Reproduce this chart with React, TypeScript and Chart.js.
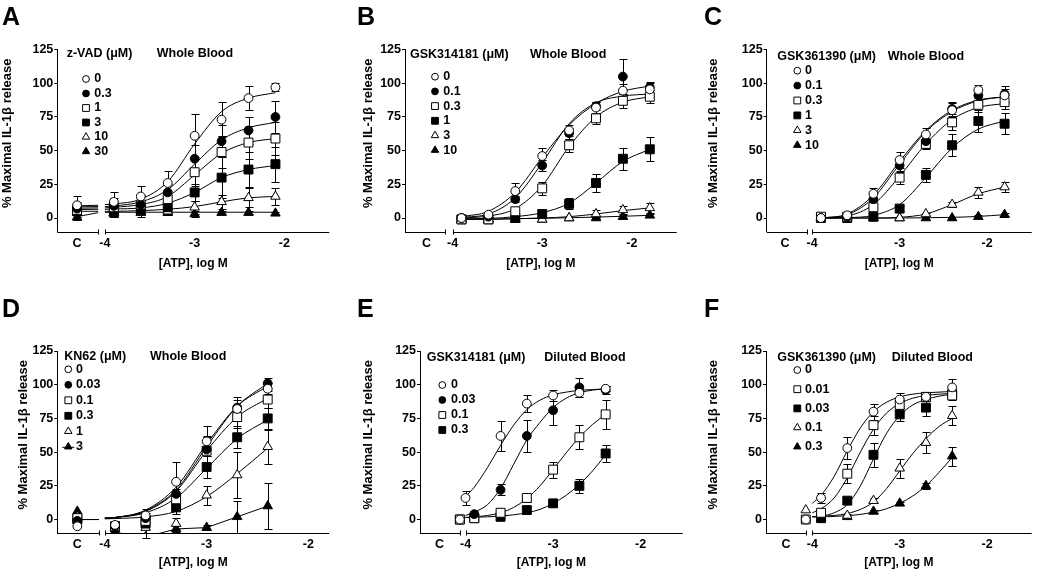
import React, { useEffect, useRef } from "react";
import { Chart, registerables } from "chart.js";

Chart.register(...registerables);

const FONT_FAMILY = '"Liberation Sans", Arial, Helvetica, sans-serif';
const Y_TITLE = "    % Maximal IL-1\u03b2 release";
const X_TITLE = "[ATP], log M";

// ================= Panel A : z-VAD, whole blood =================
const A_logATP = [-3.9, -3.6, -3.3, -3.0, -2.7, -2.4, -2.1];
const A_conc = ["0", "0.3", "1", "3", "10", "30"];
const A_ctrl = [9.5, 7, 6, 5, 4, 0.5];
const A_ctrlErr = [7, 5, 4, 3, 3, 2];
const A_0 = [12, 16, 26, 61, 73, 89, 97];
const A_0_err = [7, 8, 9, 16, 13, 9, 3];
const A_03 = [9, 10, 19, 44, 57, 65, 75];
const A_03_err = [6, 7, 6, 10, 12, 10, 12];
const A_1 = [8, 10, 14, 34, 49, 56, 59];
const A_1_err = [5, 6, 6, 10, 12, 12, 12];
const A_3 = [4, 6, 8, 19, 30, 36, 40];
const A_3_err = [3, 3, 4, 6, 15, 13, 13];
const A_10 = [4, 4, 5, 8, 12, 15, 16];
const A_10_err = [3, 3, 3, 5, 5, 7, 6];
const A_30 = [4, 4, 4, 3, 4, 4, 3.5];
const A_30_err = [1, 1, 1, 2, 1, 1, 1];
// fitted curves
const A_fitX = [-4.0, -3.9, -3.6, -3.3, -3.0, -2.7, -2.4, -2.1];
const A_fitCtrl = [[9, 9.5], [8.3, 8.5], [7.3, 7.5], [6.3, 6.5], [5, 5], [1, 4]];
const A_fit0 = [10, 10.5, 14, 27, 55, 79, 89, 93];
const A_fit03 = [8.5, 9, 12, 21, 40, 58, 67, 71];
const A_fit1 = [7.5, 8, 10, 16, 32, 48, 56, 59];
const A_fit3 = [6.5, 6.7, 7.5, 11, 19, 30, 36, 39];
const A_fit10 = [5, 5, 5.5, 6.5, 8.5, 12, 15, 16];
const A_fit30 = [4.2, 4.3, 4.3, 4.3, 4.3, 4.3, 4.3, 4.3];

// ================= Panel B : GSK314181, whole blood =================
const B_logATP = [-3.9, -3.6, -3.3, -3.0, -2.7, -2.4, -2.1, -1.8];
const B_conc = ["0", "0.1", "0.3", "1", "3", "10"];
const B_0 = [0, 2.5, 20, 46, 65, 82, 94.5, 95.5];
const B_0_err = [1, 1, 6, 6, 4, 4, 5, 5];
const B_01 = [0, 1, 14, 39, 63, 83, 105, 97];
const B_01_err = [1, 1, 2, 4, 4, 3, 13, 4];
const B_03 = [-1, -1, 5, 22, 54, 74, 87, 90];
const B_03_err = [1, 1, 2, 5, 5, 4, 5, 5];
const B_1 = [-1, -1, 0, 3, 10.5, 26, 44, 51];
const B_1_err = [1, 1, 1, 1, 4, 7, 8, 9];
const B_3 = [-1, -1, -1, -1, 0, 3, 6, 7.5];
const B_3_err = [1, 1, 1, 1, 1, 3, 3, 4];
const B_10 = [-1, -1, -1, -1, 0, 0, 1, 2];
const B_10_err = [0, 0, 0, 0, 0, 1, 1, 1];
const B_fit0 = [1, 5, 19, 45, 69, 85, 94, 98];
const B_fit01 = [0.5, 3, 15, 41, 70, 85.5, 90.5, 92];
const B_fit03 = [0, 1.5, 7, 24, 53, 75, 86, 90];
const B_fit1 = [-0.5, -0.3, 1, 4, 11, 26, 42, 51];
const B_fit3 = [-1, -1, -0.5, 0, 1, 3, 5.5, 7.5];
const B_fit10 = [-1, -0.8, -0.5, -0.2, 0.2, 0.7, 1.3, 2];

// ================= Panel C : GSK361390, whole blood =================
const C_logATP = [-3.9, -3.6, -3.3, -3.0, -2.7, -2.4, -2.1, -1.8];
const C_conc = ["0", "0.1", "0.3", "1", "3", "10"];
const C_0 = [0, 2, 18, 43, 62, 80, 95, 91];
const C_0_err = [1, 1, 4, 6, 5, 5, 4, 5];
const C_01 = [0, 1, 14, 39, 57, 81, 91, 92];
const C_01_err = [1, 1, 4, 5, 5, 5, 5, 6];
const C_03 = [1, 1, 8, 30, 55, 71, 84, 86];
const C_03_err = [1, 1, 5, 5, 4, 6, 5, 5];
const C_1 = [0, 0, 1, 7, 32, 54, 72, 70];
const C_1_err = [1, 1, 1, 2, 5, 8, 8, 8];
const C_3 = [0, 0, 0, 0, 3, 10, 19, 23];
const C_3_err = [0, 0, 0, 0, 1, 2, 4, 4];
const C_10 = [0, 0, 0, 0, 0, 0, 1, 2.5];
const C_10_err = [0, 0, 0, 0, 0, 0, 1, 1];
const C_fit0 = [0, 3, 17, 42, 65, 80, 87.5, 90];
const C_fit01 = [0, 2.5, 15, 40, 64, 79, 87, 90];
const C_fit03 = [0, 1.5, 10, 31, 55, 73, 82, 85];
const C_fit1 = [0, 0.3, 2, 10, 30, 52, 66, 72];
const C_fit3 = [0, 0, 0, 0.5, 3, 10, 18, 23];
const C_fit10 = [0, 0, 0, 0, 0.2, 0.5, 1.2, 2.5];

// ================= Panel D : KN62, whole blood =================
const D_logATP = [-3.9, -3.6, -3.3, -3.0, -2.7, -2.4];
const D_conc = ["0", "0.03", "0.1", "0.3", "1", "3"];
const D_ctrl = [-5, -1, 1, 0, 2, 6];
const D_0 = [-4, 3, 28, 58, 82, 97];
const D_0_err = [3, 5, 15, 11, 9, 4];
const D_003 = [-5, 1, 19, 52, 83, 101];
const D_003_err = [3, 4, 8, 10, 6, 4];
const D_01 = [-5, -1, 15, 51, 76, 89];
const D_01_err = [2, 4, 8, 10, 8, 6];
const D_03 = [-6, -3, 9, 39, 61, 75];
const D_03_err = [2, 4, 5, 8, 8, 8];
const D_1 = [-6, -6, -3, 18, 33, 54];
const D_1_err = [2, 7.5, 4, 7, 17, 12.5];
const D_3 = [-9.5, -13, -7, -6, 2, 10];
const D_3_err = [0, 0, 2, 2, 12, 17];
const D_fitX = [-4.0, -3.9, -3.6, -3.3, -3.0, -2.7, -2.4];
const D_fitCtrl = [0, 0];
const D_fit0 = [1, 1.5, 7, 24, 56, 84, 99];
const D_fit003 = [1, 1.5, 6.5, 22, 54, 84, 101];
const D_fit01 = [1, 1.5, 6, 21, 51, 76, 90];
const D_fit03 = [1, 1.5, 5, 16, 38, 60, 74];
const D_fit1 = [0.5, 0.7, 2, 6, 17, 34, 53];

// ================= Panel E : GSK314181, diluted blood =================
const E_logATP = [-3.9, -3.6, -3.3, -3.0, -2.7, -2.4];
const E_logATP_0 = [-4.0, -3.6, -3.3, -3.0, -2.7, -2.4];
const E_conc = ["0", "0.03", "0.1", "0.3"];
const E_0 = [16, 62, 86, 92, 94, 97];
const E_0_err = [5, 11, 6, 4, 3, 2];
const E_003 = [4, 22, 62, 81, 98, 96];
const E_003_err = [2, 4, 12, 11, 7, 3];
const E_01 = [1, 5, 16, 37, 61, 78];
const E_01_err = [1, 2, 3, 6, 9, 11];
const E_03 = [1, 2, 7, 12, 25, 49];
const E_03_err = [1, 1, 2, 2, 5, 6];
const E_fitX = [-4.0, -3.9, -3.75, -3.6, -3.45, -3.3, -3.15, -3.0, -2.85, -2.7, -2.55, -2.4];
const E_fit0 = [17, 24, 38.5, 55, 70, 81.5, 88.5, 92.5, 94.5, 95.8, 96.4, 96.8];
const E_fit003 = [3, 5.5, 11, 23, 41, 59, 72, 83, 90, 94, 96, 97];
const E_fit01 = [1.5, 2, 3, 5, 9, 15.5, 25, 37, 49.5, 61, 70.5, 78];
const E_fit03 = [1.5, 1.7, 2, 2.5, 3.5, 5, 7.5, 12, 18, 26, 36, 48];

// ================= Panel F : GSK361390, diluted blood =================
const F_logATP = [-3.9, -3.6, -3.3, -3.0, -2.7, -2.4];
const F_conc = ["0", "0.01", "0.03", "0.1", "0.3"];
const F_0 = [16, 53, 80, 89, 91, 98];
const F_0_err = [4, 8, 6, 5, 3, 6];
const F_001 = [5, 34, 70, 85, 91, 92];
const F_001_err = [2, 7, 7, 5, 3, 3];
const F_003 = [1, 14, 48, 78, 83, 93];
const F_003_err = [1, 2, 9, 5, 6, 3];
const F_01 = [1, 3, 14, 38, 57, 77];
const F_01_err = [1, 1, 2, 7, 8, 7];
const F_03 = [1, 2, 6, 12, 25, 47];
const F_03_err = [1, 1, 1, 1, 2, 7];
const F_fitX = [-4.0, -3.9, -3.75, -3.6, -3.45, -3.3, -3.15, -3.0, -2.85, -2.7, -2.55, -2.4];
const F_fit0 = [12, 18, 32, 51, 68, 80, 87, 91, 93, 94, 94.5, 95];
const F_fit001 = [5, 8, 16, 31, 50, 67, 79, 86, 90, 92, 93, 93.5];
const F_fit003 = [2, 2.5, 5, 11, 25, 45, 64, 77, 85, 89, 91.5, 93];
const F_fit01 = [2, 2.5, 3, 4.5, 7.5, 13, 23, 36, 49, 60, 69, 75];
const F_fit03 = [2, 2, 2.3, 2.8, 3.8, 5.5, 8, 12, 17.5, 25, 35, 46];

// ----------------------------------------------------------------
const S = (label, marker, x, y, err, extra = {}) => ({ label, marker, x, y, err, ...extra });

const panels = [
  {
    letter: "A", letterPos: [2, 25], drug: "z-VAD (\u03bcM)", blood: "Whole Blood",
    canvas: { left: 0, top: 0, width: 345, height: 285 },
    area: { left: 57.3, right: 329.3, top: 49.6, bottom: 231.5 },
    xMin: -4.53, xMax: -1.5, cX: -4.31, breakL: -4.075, breakR: -4.0, ctrlX: -4.31,
    yTitlePad: 0, xTitlePad: 13.8,
    legend: { hx1: 9.4, hx2: 99.4, hy: 3.7, symX: 28.7, txtX: 37, row0: 29.4, dy: 14.5 },
    fitX: A_fitX,
    series: [
      S(A_conc[0], "oc", A_logATP, A_0, A_0_err, { ctrl: A_ctrl[0], ctrlErr: A_ctrlErr[0], fit: A_fit0, fitCtrl: A_fitCtrl[0] }),
      S(A_conc[1], "fc", A_logATP, A_03, A_03_err, { ctrl: A_ctrl[1], ctrlErr: A_ctrlErr[1], fit: A_fit03, fitCtrl: A_fitCtrl[1] }),
      S(A_conc[2], "os", A_logATP, A_1, A_1_err, { ctrl: A_ctrl[2], ctrlErr: A_ctrlErr[2], fit: A_fit1, fitCtrl: A_fitCtrl[2] }),
      S(A_conc[3], "fs", A_logATP, A_3, A_3_err, { ctrl: A_ctrl[3], ctrlErr: A_ctrlErr[3], fit: A_fit3, fitCtrl: A_fitCtrl[3] }),
      S(A_conc[4], "ot", A_logATP, A_10, A_10_err, { ctrl: A_ctrl[4], ctrlErr: A_ctrlErr[4], fit: A_fit10, fitCtrl: A_fitCtrl[4] }),
      S(A_conc[5], "ft", A_logATP, A_30, A_30_err, { ctrl: A_ctrl[5], ctrlErr: A_ctrlErr[5], fit: A_fit30, fitCtrl: A_fitCtrl[5] }),
    ],
  },
  {
    letter: "B", letterPos: [357, 25], drug: "GSK314181 (\u03bcM)", blood: "Whole Blood",
    canvas: { left: 345, top: 0, width: 345, height: 285 },
    area: { left: 405, right: 676.7, top: 49.6, bottom: 231.5 },
    xMin: -4.53, xMax: -1.5, cX: -4.29, breakL: -4.08, breakR: -4.0, ctrlX: -4.29,
    yTitlePad: 15.2, xTitlePad: 13.8,
    legend: { hx1: 5, hx2: 125, hy: 5.4, symX: 30, txtX: 38.3, row0: 27.1, dy: 14.7 },
    fitX: B_logATP,
    series: [
      S(B_conc[0], "oc", B_logATP, B_0, B_0_err, { fit: B_fit0 }),
      S(B_conc[1], "fc", B_logATP, B_01, B_01_err, { fit: B_fit01 }),
      S(B_conc[2], "os", B_logATP, B_03, B_03_err, { fit: B_fit03 }),
      S(B_conc[3], "fs", B_logATP, B_1, B_1_err, { fit: B_fit1 }),
      S(B_conc[4], "ot", B_logATP, B_3, B_3_err, { fit: B_fit3 }),
      S(B_conc[5], "ft", B_logATP, B_10, B_10_err, { fit: B_fit10 }),
    ],
  },
  {
    letter: "C", letterPos: [704, 25], drug: "GSK361390 (\u03bcM)", blood: "Whole Blood",
    canvas: { left: 690, top: 0, width: 349, height: 285 },
    area: { left: 766.7, right: 1039, top: 49.6, bottom: 231.5 },
    xMin: -4.52, xMax: -1.49, cX: -4.31, breakL: -4.06, breakR: -4.0, ctrlX: -4.31,
    yTitlePad: 15.2, xTitlePad: 13.8,
    legend: { hx1: 10.6, hx2: 121, hy: 7.1, symX: 30.6, txtX: 38.3, row0: 21.1, dy: 14.9 },
    fitX: C_logATP,
    series: [
      S(C_conc[0], "oc", C_logATP, C_0, C_0_err, { fit: C_fit0 }),
      S(C_conc[1], "fc", C_logATP, C_01, C_01_err, { fit: C_fit01 }),
      S(C_conc[2], "os", C_logATP, C_03, C_03_err, { fit: C_fit03 }),
      S(C_conc[3], "fs", C_logATP, C_1, C_1_err, { fit: C_fit1 }),
      S(C_conc[4], "ot", C_logATP, C_3, C_3_err, { fit: C_fit3 }),
      S(C_conc[5], "ft", C_logATP, C_10, C_10_err, { fit: C_fit10 }),
    ],
  },
  {
    letter: "D", letterPos: [2, 317], drug: "KN62 (\u03bcM)", blood: "Whole Blood",
    canvas: { left: 0, top: 285, width: 345, height: 285 },
    area: { left: 57.3, right: 329.3, top: 351, bottom: 533 },
    xMin: -4.467, xMax: -1.795, cX: -4.27, breakL: -4.06, breakR: -4.0, ctrlX: -4.27,
    yTitlePad: 15.2, xTitlePad: 0.3,
    legend: { hx1: 7, hx2: 92.7, hy: 5.7, symX: 11, txtX: 18.7, row0: 18.3, dy: 15.5 },
    fitX: D_fitX,
    series: [
      S(D_conc[0], "oc", D_logATP, D_0, D_0_err, { ctrl: D_ctrl[0], fit: D_fit0, fitCtrl: D_fitCtrl }),
      S(D_conc[1], "fc", D_logATP, D_003, D_003_err, { ctrl: D_ctrl[1], fit: D_fit003, fitCtrl: D_fitCtrl }),
      S(D_conc[2], "os", D_logATP, D_01, D_01_err, { ctrl: D_ctrl[2], fit: D_fit01, fitCtrl: D_fitCtrl }),
      S(D_conc[3], "fs", D_logATP, D_03, D_03_err, { ctrl: D_ctrl[3], fit: D_fit03, fitCtrl: D_fitCtrl }),
      S(D_conc[4], "ot", D_logATP, D_1, D_1_err, { ctrl: D_ctrl[4], fit: D_fit1, fitCtrl: D_fitCtrl }),
      S(D_conc[5], "ft", D_logATP, D_3, D_3_err, { ctrl: D_ctrl[5], connect: true }),
    ],
  },
  {
    letter: "E", letterPos: [357, 317], drug: "GSK314181 (\u03bcM)", blood: "Diluted Blood",
    canvas: { left: 345, top: 285, width: 345, height: 285 },
    area: { left: 420, right: 690, top: 351, bottom: 533 },
    xMin: -4.52, xMax: -1.52, cX: -4.297, breakL: -4.065, breakR: -4.0, ctrlX: -4.065,
    yTitlePad: 15.2, xTitlePad: 0.3,
    legend: { hx1: 6.7, hx2: 124.3, hy: 6.2, symX: 22.3, txtX: 31, row0: 34, dy: 15 },
    fitX: E_fitX,
    series: [
      S(E_conc[0], "oc", E_logATP_0, E_0, E_0_err, { ctrl: 0, fit: E_fit0 }),
      S(E_conc[1], "fc", E_logATP, E_003, E_003_err, { fit: E_fit003 }),
      S(E_conc[2], "os", E_logATP, E_01, E_01_err, { ctrl: 0, fit: E_fit01 }),
      S(E_conc[3], "fs", E_logATP, E_03, E_03_err, { ctrl: 0, fit: E_fit03 }),
    ],
  },
  {
    letter: "F", letterPos: [704, 317], drug: "GSK361390 (\u03bcM)", blood: "Diluted Blood",
    canvas: { left: 690, top: 285, width: 349, height: 285 },
    area: { left: 766, right: 1039, top: 351, bottom: 533 },
    xMin: -4.53, xMax: -1.49, cX: -4.3, breakL: -4.075, breakR: -4.0, ctrlX: -4.075,
    yTitlePad: 15.2, xTitlePad: 0.3,
    legend: { hx1: 11.3, hx2: 125.7, hy: 6.2, symX: 31.3, txtX: 39, row0: 19, dy: 19.2 },
    fitX: F_fitX,
    series: [
      S(F_conc[0], "oc", F_logATP, F_0, F_0_err, { ctrl: 0, fit: F_fit0 }),
      S(F_conc[1], "os", F_logATP, F_001, F_001_err, { ctrl: 0, fit: F_fit001 }),
      S(F_conc[2], "fs", F_logATP, F_003, F_003_err, { fit: F_fit003 }),
      S(F_conc[3], "ot", F_logATP, F_01, F_01_err, { ctrl: 7, fit: F_fit01 }),
      S(F_conc[4], "ft", F_logATP, F_03, F_03_err, { fit: F_fit03 }),
    ],
  },
];

function markerStyle(m) {
  const shape = m[1];
  return {
    style: shape === "c" ? "circle" : shape === "s" ? "rect" : "triangle",
    radius: shape === "c" ? 4.4 : shape === "s" ? 6.3 : 5.5,
    fill: m[0] === "o" ? "#ffffff" : "#000000",
  };
}

function drawLegendMark(ctx, m, x, y) {
  const shape = m[1];
  ctx.beginPath();
  if (shape === "c") {
    ctx.arc(x, y, 3.4, 0, Math.PI * 2);
  } else if (shape === "s") {
    ctx.rect(x - 3.4, y - 3.4, 6.8, 6.8);
  } else {
    const r = 4.3;
    ctx.moveTo(x, y - r);
    ctx.lineTo(x + 0.866 * r, y + 0.5 * r);
    ctx.lineTo(x - 0.866 * r, y + 0.5 * r);
    ctx.closePath();
  }
  ctx.fillStyle = m[0] === "o" ? "#ffffff" : "#000000";
  ctx.fill();
  ctx.strokeStyle = "#000";
  ctx.lineWidth = 1;
  ctx.stroke();
}

function buildConfig(p) {
  const datasets = [];
  const bars = [];
  for (const s of p.series) {
    const st = markerStyle(s.marker);
    const pts = [];
    if (s.ctrl != null) {
      pts.push({ x: p.ctrlX, y: s.ctrl });
      bars.push({ x: p.ctrlX, y: s.ctrl, e: s.ctrlErr || 0 });
      if (s.connect) pts.push({ x: (p.breakL + p.breakR) / 2, y: null });
    }
    s.x.forEach((x, i) => {
      pts.push({ x, y: s.y[i] });
      bars.push({ x, y: s.y[i], e: s.err[i] || 0 });
    });
    datasets.push({
      data: pts,
      showLine: !!s.connect,
      spanGaps: false,
      borderColor: "#000",
      borderWidth: 1,
      tension: 0,
      pointStyle: st.style,
      pointRadius: st.radius,
      pointHoverRadius: st.radius,
      pointBackgroundColor: st.fill,
      pointBorderColor: "#000",
      pointBorderWidth: 1,
      clip: { left: 20, right: 20, top: 20, bottom: 0 },
    });
  }
  for (const s of p.series) {
    if (!s.fit) continue;
    const pts = [];
    if (s.fitCtrl) {
      pts.push({ x: p.cX, y: s.fitCtrl[0] });
      pts.push({ x: p.breakL, y: s.fitCtrl[1] });
      pts.push({ x: (p.breakL + p.breakR) / 2, y: null });
    }
    p.fitX.forEach((x, i) => pts.push({ x, y: s.fit[i] }));
    datasets.push({
      data: pts,
      showLine: true,
      spanGaps: false,
      borderColor: "#000",
      borderWidth: 1,
      pointRadius: 0,
      pointHoverRadius: 0,
      cubicInterpolationMode: "monotone",
      fill: false,
      clip: 0,
    });
  }

  const tickFont = { family: FONT_FAMILY, size: 12.5, weight: "bold" };

  const decor = {
    id: "decor",
    beforeDatasetsDraw(chart) {
      const ctx = chart.ctx;
      const xs = chart.scales.x;
      const ys = chart.scales.y;
      ctx.save();
      ctx.strokeStyle = "#000";
      ctx.lineWidth = 1;
      for (const b of bars) {
        if (!b.e) continue;
        const px = Math.round(xs.getPixelForValue(b.x)) + 0.5;
        const y1 = Math.round(ys.getPixelForValue(b.y - b.e)) + 0.5;
        const y2 = Math.round(ys.getPixelForValue(b.y + b.e)) + 0.5;
        ctx.beginPath();
        ctx.moveTo(px, y1);
        ctx.lineTo(px, y2);
        ctx.moveTo(px - 4, y1);
        ctx.lineTo(px + 4, y1);
        ctx.moveTo(px - 4, y2);
        ctx.lineTo(px + 4, y2);
        ctx.stroke();
      }
      ctx.restore();
    },
    afterDraw(chart) {
      const ctx = chart.ctx;
      const xs = chart.scales.x;
      const { left, right, top, bottom } = chart.chartArea;
      ctx.save();
      // broken x axis
      ctx.strokeStyle = "#000";
      ctx.lineWidth = 1;
      const ay = Math.round(bottom) + 0.5;
      const bl = Math.round(xs.getPixelForValue(p.breakL)) + 0.5;
      const br = Math.round(xs.getPixelForValue(p.breakR)) + 0.5;
      ctx.beginPath();
      ctx.moveTo(left, ay);
      ctx.lineTo(bl, ay);
      ctx.moveTo(bl, ay - 3);
      ctx.lineTo(bl, ay + 2);
      ctx.moveTo(br, ay - 3);
      ctx.lineTo(br, ay + 2);
      ctx.moveTo(br, ay);
      ctx.lineTo(right, ay);
      ctx.stroke();

      // legend
      const lg = p.legend;
      ctx.fillStyle = "#000";
      ctx.font = `bold 12.5px ${FONT_FAMILY}`;
      ctx.textBaseline = "middle";
      ctx.textAlign = "left";
      ctx.fillText(p.drug, left + lg.hx1, top + lg.hy);
      ctx.fillText(p.blood, left + lg.hx2, top + lg.hy);
      p.series.forEach((s, i) => {
        const sy = top + lg.row0 + i * lg.dy;
        const sx = left + lg.symX;
        if (s.connect) {
          ctx.beginPath();
          ctx.moveTo(sx - 6, sy + 0.5);
          ctx.lineTo(sx + 6, sy + 0.5);
          ctx.strokeStyle = "#000";
          ctx.lineWidth = 1;
          ctx.stroke();
        }
        drawLegendMark(ctx, s.marker, sx, sy);
        ctx.fillStyle = "#000";
        ctx.fillText(s.label, left + lg.txtX, sy);
      });

      // panel letter
      ctx.font = `bold 25px ${FONT_FAMILY}`;
      ctx.textBaseline = "alphabetic";
      ctx.fillText(p.letter, p.letterPos[0] - p.canvas.left, p.letterPos[1] - p.canvas.top);
      ctx.restore();
    },
  };

  return {
    type: "line",
    data: { datasets },
    options: {
      responsive: false,
      maintainAspectRatio: false,
      devicePixelRatio: 1,
      animation: false,
      events: [],
      layout: {
        padding: {
          left: 0,
          top: p.area.top - p.canvas.top,
          right: p.canvas.left + p.canvas.width - p.area.right,
          bottom: 0,
        },
      },
      plugins: { legend: { display: false }, tooltip: { enabled: false } },
      scales: {
        x: {
          type: "linear",
          min: p.xMin,
          max: p.xMax,
          afterBuildTicks: (scale) => {
            scale.ticks = [p.cX, -4, -3, -2].map((v) => ({ value: v }));
          },
          afterFit: (scale) => {
            scale.height = p.canvas.top + p.canvas.height - p.area.bottom;
          },
          ticks: {
            autoSkip: false,
            maxRotation: 0,
            minRotation: 0,
            padding: 4.5,
            color: "#000",
            font: tickFont,
            callback: (v) => (Math.abs(v - p.cX) < 1e-9 ? "C" : String(v)),
          },
          grid: { display: false, drawTicks: false, tickLength: 0 },
          border: { display: false },
          title: {
            display: true,
            text: X_TITLE,
            color: "#000",
            font: { family: FONT_FAMILY, size: 12, weight: "bold" },
            padding: { top: 0, bottom: p.xTitlePad },
          },
        },
        y: {
          type: "linear",
          min: -10,
          max: 125,
          afterBuildTicks: (scale) => {
            scale.ticks = [0, 25, 50, 75, 100, 125].map((v) => ({ value: v }));
          },
          afterFit: (scale) => {
            scale.width = p.area.left - p.canvas.left;
          },
          ticks: { autoSkip: false, padding: 1, color: "#000", font: tickFont },
          grid: {
            display: true,
            drawOnChartArea: false,
            drawTicks: true,
            tickLength: 3,
            color: "#000",
            lineWidth: 1,
          },
          border: { display: true, color: "#000", width: 1 },
          title: {
            display: true,
            text: Y_TITLE,
            color: "#000",
            font: { family: FONT_FAMILY, size: 13, weight: "bold" },
            padding: { top: p.yTitlePad, bottom: 0 },
          },
        },
      },
    },
    plugins: [decor],
  };
}

function Panel({ p }) {
  const ref = useRef(null);
  useEffect(() => {
    const chart = new Chart(ref.current, buildConfig(p));
    return () => chart.destroy();
  }, [p]);
  return (
    <canvas
      ref={ref}
      width={p.canvas.width}
      height={p.canvas.height}
      style={{
        position: "absolute",
        left: p.canvas.left,
        top: p.canvas.top,
        width: p.canvas.width,
        height: p.canvas.height,
      }}
    />
  );
}

export default function App() {
  return (
    <div
      style={{
        position: "absolute",
        left: 0,
        top: 0,
        width: 1039,
        height: 570,
        background: "#ffffff",
        overflow: "hidden",
      }}
    >
      {panels.map((p) => (
        <Panel key={p.letter} p={p} />
      ))}
    </div>
  );
}
